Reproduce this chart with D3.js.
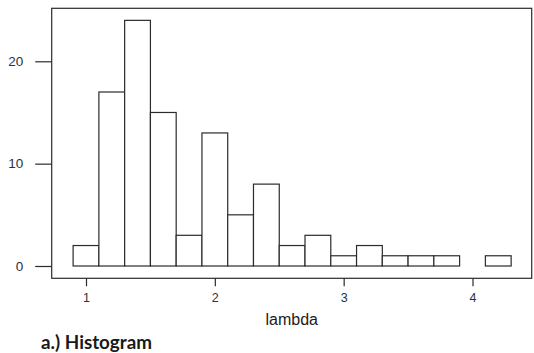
<!DOCTYPE html>
<html>
<head>
<meta charset="utf-8">
<script src="https://cdn.jsdelivr.net/npm/d3@7"></script>
<style>
  html, body { margin: 0; padding: 0; background: #fff; }
  svg { display: block; }
  .sans { font-family: Arial, "Liberation Sans", Helvetica, sans-serif; }
</style>
</head>
<body>
<svg id="chart" width="534" height="353"></svg>
<script>
// Histogram bins of lambda (width 0.2, starting at 0.9) and their counts
const binStarts = [0.9, 1.1, 1.3, 1.5, 1.7, 1.9, 2.1, 2.3, 2.5, 2.7, 2.9, 3.1, 3.3, 3.5, 3.7, 3.9, 4.1];
const binWidth = 0.2;
const counts = [2, 17, 24, 15, 3, 13, 5, 8, 2, 3, 1, 2, 1, 1, 1, 0, 1];
const xTicks = [1, 2, 3, 4];
const yTicks = [0, 10, 20];
const xLabel = "lambda";
const caption = "a.) Histogram";

const bins = binStarts.map((x0, i) => ({ x0, x1: +(x0 + binWidth).toFixed(2), count: counts[i] }));

const svg = d3.select("#chart");
const ink = "#2b2b2b";

// plot frame
const frame = { left: 51.7, top: 8.3, right: 531.7, bottom: 278.3 };

const x = d3.scaleLinear().domain([1, 4]).range([86, 472.5]);
const y = d3.scaleLinear().domain([0, 20]).range([266, 61.3]);

// bars
svg.append("g")
  .selectAll("rect")
  .data(bins)
  .join("rect")
  .attr("x", d => x(d.x0))
  .attr("y", d => y(d.count))
  .attr("width", d => x(d.x1) - x(d.x0))
  .attr("height", d => y(0) - y(d.count))
  .attr("fill", "#fff")
  .attr("stroke", ink)
  .attr("stroke-width", 1.2);

// box around the plot region
svg.append("rect")
  .attr("x", frame.left)
  .attr("y", frame.top)
  .attr("width", frame.right - frame.left)
  .attr("height", frame.bottom - frame.top)
  .attr("fill", "none")
  .attr("stroke", ink)
  .attr("stroke-width", 1.2);

// y axis (counts)
const yAxis = d3.axisLeft(y).tickValues(yTicks).tickSize(16.5).tickPadding(12).tickFormat(d3.format("d"));
const gy = svg.append("g").attr("transform", `translate(${frame.left},0)`).call(yAxis);
gy.attr("font-family", null).attr("font-size", null).attr("class", "sans");
gy.select(".domain").remove();
gy.selectAll(".tick line").attr("stroke", ink).attr("stroke-width", 1.2);
gy.selectAll(".tick text")
  .attr("fill", "#2a3140")
  .style("font-size", "13.5px");

// x axis (lambda)
const xAxis = d3.axisBottom(x).tickValues(xTicks).tickSize(8).tickPadding(7).tickFormat(d3.format("d"));
const gx = svg.append("g").attr("transform", `translate(0,${frame.bottom})`).call(xAxis);
gx.attr("font-family", null).attr("font-size", null).attr("class", "sans");
gx.select(".domain").remove();
gx.selectAll(".tick line").attr("stroke", ink).attr("stroke-width", 1.2);
gx.selectAll(".tick text")
  .attr("fill", "#2a3140")
  .style("font-size", "12.5px");

// axis title
svg.append("text")
  .attr("class", "sans")
  .attr("x", 291.7)
  .attr("y", 325)
  .attr("text-anchor", "middle")
  .attr("fill", "#1a1a1a")
  .style("font-size", "16px")
  .text(xLabel);

// caption below the chart
svg.append("text")
  .attr("x", 41)
  .attr("y", 349)
  .attr("fill", "#1a1a1a")
  .attr("textLength", 111)
  .attr("lengthAdjust", "spacingAndGlyphs")
  .style("font-family", "Lato, 'Open Sans', sans-serif")
  .style("font-weight", "bold")
  .style("font-size", "19px")
  .text(caption);
</script>
</body>
</html>
